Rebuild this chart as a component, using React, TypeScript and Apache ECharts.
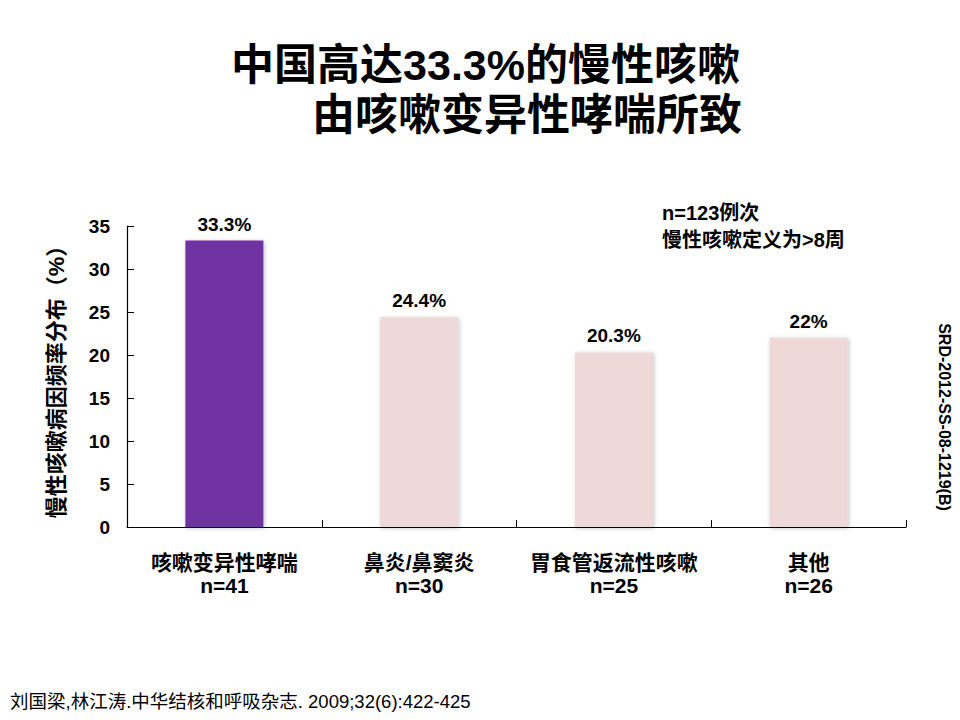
import React, { useEffect, useRef } from "react";
import * as echarts from "echarts";

const categories = ["咳嗽变异性哮喘", "鼻炎/鼻窦炎", "胃食管返流性咳嗽", "其他"];
const counts = ["n=41", "n=30", "n=25", "n=26"];
const values = [33.3, 24.4, 20.3, 22];
const valueLabels = ["33.3%", "24.4%", "20.3%", "22%"];
const barColors = ["#7030A0", "#EED8D8", "#EED8D8", "#EED8D8"];
const yTicks = { min: 0, max: 35, interval: 5 };

const CJK = "'Liberation Sans', Arial, 'Noto Sans CJK SC', sans-serif";

export default function App() {
  const ref = useRef<HTMLDivElement>(null);
  useEffect(() => {
    if (!ref.current) return;
    const chart = echarts.init(ref.current, null, { renderer: "svg" });
    chart.setOption({
      animation: false,
      backgroundColor: "#ffffff",
      grid: { left: 127, right: 54, top: 226, bottom: 193, containLabel: false },
      xAxis: {
        type: "category",
        data: categories.map((c, i) => c + "\n" + counts[i]),
        axisLine: { lineStyle: { color: "#000", width: 1.2 } },
        axisTick: { show: true, inside: true, length: 7, lineStyle: { color: "#000" } },
        axisLabel: {
          color: "#000",
          fontFamily: CJK,
          fontSize: 21,
          fontWeight: "bold",
          lineHeight: 23,
          margin: 24,
          interval: 0,
        },
      },
      yAxis: {
        type: "value",
        min: yTicks.min,
        max: yTicks.max,
        interval: yTicks.interval,
        name: "慢性咳嗽病因频率分布（%）",
        nameLocation: "middle",
        nameRotate: 90,
        nameGap: 60,
        nameTextStyle: { color: "#000", fontFamily: CJK, fontSize: 22, fontWeight: "bold" },
        axisLine: { show: true, lineStyle: { color: "#000", width: 1.2 } },
        axisTick: { show: true, inside: true, length: 7, lineStyle: { color: "#000" } },
        splitLine: { show: false },
        axisLabel: {
          color: "#000",
          fontFamily: CJK,
          fontSize: 19,
          fontWeight: "bold",
          margin: 17,
        },
      },
      series: [
        {
          type: "bar",
          barWidth: 78,
          data: values.map((v, i) => ({
            value: v,
            itemStyle: {
              color: barColors[i],
              shadowBlur: 4,
              shadowColor: "rgba(0,0,0,0.25)",
              shadowOffsetX: 1,
              shadowOffsetY: 1,
            },
            label: {
              show: true,
              position: "top",
              distance: 7,
              formatter: valueLabels[i],
              color: "#000",
              fontFamily: CJK,
              fontSize: 19,
              fontWeight: "bold",
            },
          })),
        },
      ],
      graphic: [
        {
          type: "text",
          right: 960 - 740,
          top: 43,
          style: {
            text: "中国高达33.3%的慢性咳嗽",
            fill: "#000",
            font: "bold 43px " + CJK,
          },
        },
        {
          type: "text",
          right: 960 - 742,
          top: 93,
          style: {
            text: "由咳嗽变异性哮喘所致",
            fill: "#000",
            font: "bold 43px " + CJK,
          },
        },
        {
          type: "text",
          left: 662,
          top: 199,
          style: {
            text: "n=123例次\n慢性咳嗽定义为>8周",
            fill: "#000",
            font: "bold 20px " + CJK,
            lineHeight: 27,
          },
        },
        {
          type: "text",
          x: 944,
          y: 417,
          rotation: -Math.PI / 2,
          style: {
            text: "SRD-2012-SS-08-1219(B)",
            fill: "#000",
            font: "bold 16px " + CJK,
            align: "center",
            verticalAlign: "middle",
          },
        },
        {
          type: "text",
          left: 10,
          top: 692,
          style: {
            text: "刘国梁,林江涛.中华结核和呼吸杂志. 2009;32(6):422-425",
            fill: "#000",
            font: "18.5px " + CJK,
          },
        },
      ],
    });
    return () => chart.dispose();
  }, []);
  return <div ref={ref} style={{ width: 960, height: 720, margin: -8 }} />;
}
